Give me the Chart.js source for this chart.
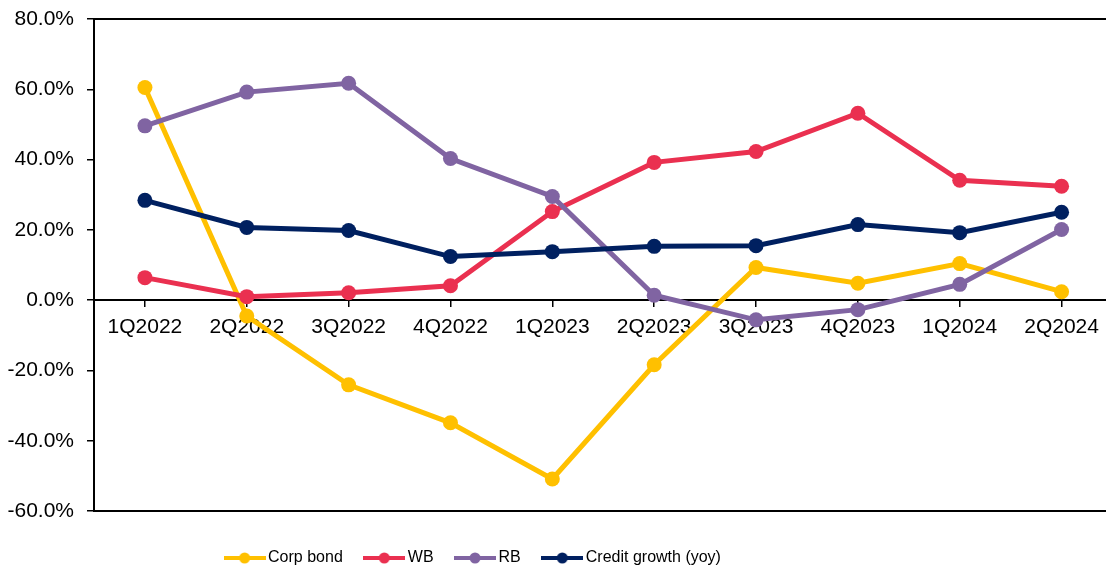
<!DOCTYPE html>
<html>
<head>
    <title>Corp bond / WB / RB vs credit growth</title>
    <script src="https://cdn.jsdelivr.net/npm/chart.js"></script>
    <style>
        body { margin: 0; background: #fff; }
        #wrap { width: 1106px; height: 571px; overflow: hidden; }
    </style>
</head>
<body>
    <div id="wrap">
        <canvas id="bondChart" width="1120" height="576"></canvas>
    </div>

    <script>
        const quarters = ['1Q2022', '2Q2022', '3Q2022', '4Q2022', '1Q2023', '2Q2023', '3Q2023', '4Q2023', '1Q2024', '2Q2024'];

        const corpBond = [60.5, -4.5, -24.1, -34.9, -50.9, -18.4, 9.3, 4.8, 10.4, 2.4];
        const wb = [6.4, 1.0, 2.1, 4.1, 25.2, 39.2, 42.3, 53.2, 34.1, 32.4];
        const rb = [49.6, 59.2, 61.7, 40.3, 29.5, 1.4, -5.6, -2.7, 4.5, 20.1];
        const creditGrowth = [28.4, 20.7, 19.8, 12.4, 13.8, 15.3, 15.5, 21.5, 19.2, 25.0];

        const yTicks = [-60, -40, -20, 0, 20, 40, 60, 80];

        const FONT = "'Liberation Sans', Arial, sans-serif";

        // legend marker: a short line with a dot in the middle, like Excel
        function legendIcon(color) {
            const c = document.createElement('canvas');
            c.width = 42;
            c.height = 14;
            const g = c.getContext('2d');
            g.strokeStyle = color;
            g.lineWidth = 4;
            g.beginPath();
            g.moveTo(0, 7);
            g.lineTo(42, 7);
            g.stroke();
            g.fillStyle = color;
            g.beginPath();
            g.arc(21, 7, 5.5, 0, Math.PI * 2);
            g.fill();
            return c;
        }

        function series(label, data, color, order) {
            return {
                label: label,
                data: data,
                borderColor: color,
                backgroundColor: color,
                borderWidth: 5,
                pointRadius: 7.5,
                pointBorderWidth: 0,
                pointHoverRadius: 7.5,
                tension: 0,
                fill: false,
                order: order,  // later series drawn on top
                icon: legendIcon(color)
            };
        }

        const frameAxis = (pos, size) => ({
            type: 'category',
            position: pos,
            grid: { drawOnChartArea: false, drawTicks: false },
            ticks: { display: false },
            border: { display: true, color: '#000', width: 2 },
            afterFit: s => { s.height = size; }
        });

        const ctx = document.getElementById('bondChart').getContext('2d');

        new Chart(ctx, {
            type: 'line',
            data: {
                labels: quarters,
                datasets: [
                    series('Corp bond', corpBond, '#FFC000', 4),
                    series('WB', wb, '#EA3050', 3),
                    series('RB', rb, '#8064A2', 2),
                    series('Credit growth (yoy)', creditGrowth, '#002060', 1)
                ]
            },
            options: {
                responsive: false,
                animation: false,
                layout: { padding: { left: 0, right: 3, top: 0, bottom: 0 } },
                plugins: {
                    tooltip: { enabled: false },
                    legend: {
                        position: 'bottom',
                        labels: {
                            usePointStyle: true,
                            pointStyleWidth: 31,
                            padding: 26,
                            color: '#000',
                            font: { family: FONT, size: 16 },
                            sort: (a, b) => a.datasetIndex - b.datasetIndex,
                            generateLabels: function(chart) {
                                const items = Chart.defaults.plugins.legend.labels.generateLabels(chart);
                                items.forEach(it => {
                                    it.pointStyle = chart.data.datasets[it.datasetIndex].icon;
                                });
                                return items;
                            }
                        }
                    }
                },
                scales: {
                    x: {
                        position: { y: 0 },
                        offset: true,
                        grid: { drawOnChartArea: false, color: '#000', lineWidth: 1.5, tickLength: 6 },
                        border: { color: '#000', width: 2 },
                        ticks: { color: '#000', padding: 8, maxRotation: 0, font: { family: FONT, size: 21 } }
                    },
                    xTop: frameAxis('top', 19),
                    xBottom: frameAxis('bottom', 13),
                    y: {
                        min: -60,
                        max: 80,
                        afterFit: s => { s.width = 94; },
                        afterBuildTicks: s => { s.ticks = yTicks.map(v => ({ value: v })); },
                        grid: { drawOnChartArea: false, color: '#000', lineWidth: 1.5, tickLength: 7 },
                        border: { color: '#000', width: 2 },
                        ticks: {
                            color: '#000',
                            padding: 13,
                            // small lineHeight keeps the end labels from padding the plot
                            font: { family: FONT, size: 21, lineHeight: 0.5 },
                            callback: v => v.toFixed(1) + '%'
                        }
                    }
                }
            },
            plugins: [{
                id: 'legendShift',
                // the legend in the source sits left of centre
                afterLayout(chart) {
                    chart.legend.left = 0;
                    chart.legend.right = 950;
                    chart.legend.width = 950;
                }
            }]
        });
    </script>
</body>
</html>
